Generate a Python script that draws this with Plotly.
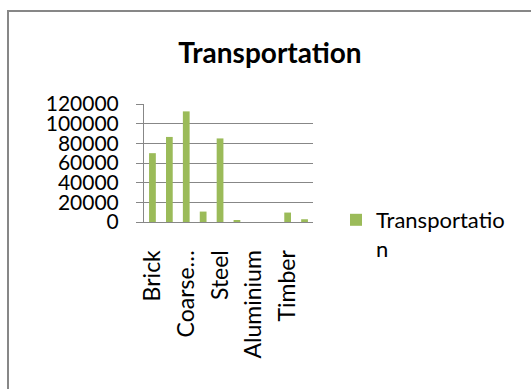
import numpy as np
import plotly.graph_objects as go

# Transport values per construction material
materials = ["Brick", "Cement", "Coarse Aggregate", "Fine Aggregate", "Steel",
             "Glass", "Aluminium", "Paint", "Timber", "Tiles"]
transport = [70000, 86500, 112500, 10600, 85000, 1700, 0, 0, 9600, 2800]
series_name = "Transportation"

# only every other category gets a label
shown_ticks = ["Brick", "Coarse Aggregate", "Steel", "Aluminium", "Timber"]
shown_text = ["Brick", "Coarse…", "Steel", "Aluminium", "Timber"]
y_ticks = [0, 20000, 40000, 60000, 80000, 100000, 120000]

GREEN = "#9BBB59"
GRID = "#878787"
FONT = "Lato"

W, H = 531, 389
L, R, T, B = 144, 218, 104, 167
pw, ph = W - L - R, H - T - B


def px_x(p):
    return (p - L) / pw


def px_y(p):
    return (H - B - p) / ph


fig = go.Figure()
fig.add_trace(go.Bar(
    x=materials, y=transport,
    name=series_name[:-1] + "<br>" + series_name[-1:],
    marker=dict(color=GREEN, line=dict(width=0)),
    showlegend=True,
))

fig.update_layout(
    width=W, height=H,
    margin=dict(l=L, r=R, t=T, b=B, pad=0),
    paper_bgcolor="white", plot_bgcolor="white",
    bargap=0.6,
    font=dict(family=FONT, color="#000000"),
    title=dict(text="<b>" + series_name + "</b>", font=dict(family=FONT, size=28, color="#000000"),
               x=px_x(270), xref="paper", xanchor="center",
               y=1 - 53 / H, yref="container", yanchor="middle"),
    xaxis=dict(type="category", categoryorder="array", categoryarray=materials,
               tickmode="array", tickvals=shown_ticks, ticktext=shown_text,
               tickangle=-90, ticks="", tickfont=dict(size=23, family=FONT, color="#000000"),
               showgrid=False, showline=True, linecolor=GRID, linewidth=1,
               ticklabelstandoff=18, range=[-0.5, 9.5]),
    xaxis2=dict(overlaying="x", type="linear", range=[-0.5, 9.5],
                tickmode="array", tickvals=list(np.arange(-0.5, 10, 1.0)),
                ticks="outside", ticklen=7, tickcolor=GRID, tickwidth=1,
                showticklabels=False, showgrid=False, showline=False, side="bottom"),
    yaxis=dict(range=[0, 120000], tickmode="array", tickvals=y_ticks,
               ticktext=[str(v) for v in y_ticks],
               ticks="outside", ticklen=7, tickcolor=GRID, tickwidth=1,
               showgrid=True, gridcolor=GRID, gridwidth=1,
               showline=True, linecolor=GRID, linewidth=1,
               zeroline=False, tickfont=dict(size=21, family=FONT, color="#000000"),
               ticklabelstandoff=13),
    legend=dict(x=px_x(336), y=px_y(199), xanchor="left", yanchor="top",
                valign="top",
                font=dict(size=22, family=FONT, color="#000000"),
                bgcolor="rgba(0,0,0,0)", borderwidth=0),
    shapes=[dict(type="rect", xref="paper", yref="paper",
                 x0=px_x(8), y0=px_y(11), x1=px_x(W + 20), y1=px_y(H + 20),
                 line=dict(color=GRID, width=2), fillcolor="rgba(0,0,0,0)", layer="below")],
)

fig.write_html("out.html")
